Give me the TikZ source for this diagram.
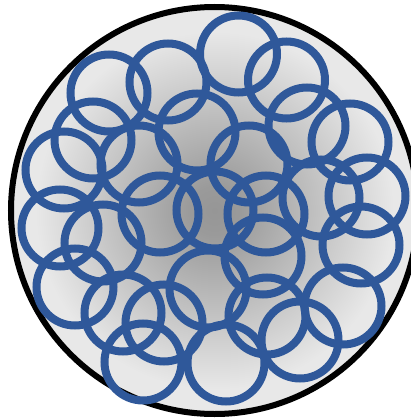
\documentclass[tikz,border=0pt]{standalone}
\definecolor{bgc}{RGB}{150,150,150}
\definecolor{bge}{RGB}{232,232,232}
\definecolor{ringblue}{RGB}{47,88,154}
\pgfdeclareradialshading{ballbg}{\pgfpoint{0bp}{0bp}}{color(0bp)=(bgc); color(3bp)=(bgc!95!bge); color(22bp)=(bge); color(50bp)=(bge)}
\tikzset{
  disk/.style={draw=black, line width=6pt, shading=ballbg},
  ringstyle/.style={draw=ringblue, line width=8pt},
}
\begin{document}
\begin{tikzpicture}[x=1pt,y=-1pt]
\useasboundingbox (0,0) rectangle (411,420);
\clip (0,0) rectangle (411,420);
\shadedraw[disk] (214.5,210.5) circle[radius=203.5];
\foreach \cx/\cy in {
  238.5/54, 286.5/80, 168/82, 109/93, 93/140, 64/170, 139/164, 197/132,
  249/164, 307/126, 350/142, 367/196, 321/198, 160/214, 215/210, 266/214,
  60/228, 103/243, 75/287, 123/313, 164/323, 143/362, 208/289, 226/363,
  263/256, 267/316, 300/340, 343/306, 361/245}
  \draw[ringstyle] (\cx,\cy) circle[radius=38.5];
\end{tikzpicture}
\end{document}
